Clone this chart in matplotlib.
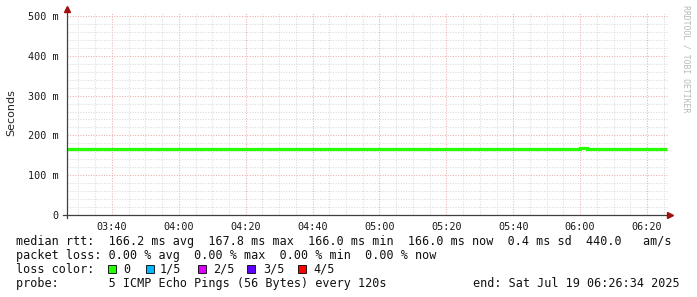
import numpy as np
import matplotlib
matplotlib.use("Agg")
import matplotlib.pyplot as plt
from matplotlib.ticker import MultipleLocator, FuncFormatter
from matplotlib.patches import Rectangle

# time axis in minutes after midnight
t_start = 3 * 60 + 26 + 34 / 60.0   # 03:26:34
t_end = 6 * 60 + 26 + 34 / 60.0     # 06:26:34
t_first = 3 * 60 + 26               # first ping round
step = 2.0                          # every 120s

# median rtt (ms), one value per ping round
median_ms = [
    166.6, 166.6, 166.6, 165.8, 165.8, 165.8, 166.6, 166.6, 165.8, 165.8,
    165.8, 166.6, 165.8, 166.6, 165.8, 166.6, 165.8, 166.6, 166.6, 166.2,
    166.2, 166.2, 166.2, 166.2, 166.2, 166.2, 166.2, 166.2, 166.2, 166.2,
    166.2, 166.2, 166.2, 166.2, 166.2, 166.2, 166.2, 166.2, 166.2, 166.2,
    166.2, 166.2, 166.2, 166.2, 166.2, 166.2, 166.2, 166.2, 166.2, 166.2,
    166.2, 166.2, 166.2, 166.2, 166.2, 166.2, 166.2, 166.2, 166.2, 166.2,
    166.2, 166.2, 166.2, 166.2, 166.2, 166.2, 166.2, 166.2, 166.2, 166.2,
    166.2, 166.2, 166.2, 166.2, 166.2, 166.2, 166.2, 167.8, 166.6, 166.6,
    165.8, 165.8, 166.6, 166.3, 166.3, 166.3, 166.3, 166.3, 166.3, 166.3,
]
edges = t_first + step * np.arange(len(median_ms) + 1)

legend_lines = [
    "median rtt:  166.2 ms avg  167.8 ms max  166.0 ms min  166.0 ms now  0.4 ms sd  440.0   am/s",
    "packet loss: 0.00 % avg  0.00 % max  0.00 % min  0.00 % now",
]
loss_labels = ["0", "1/5", "2/5", "3/5", "4/5"]
loss_colors = ["#26ff00", "#00b8ff", "#dd00ff", "#5e00ff", "#ff0000"]
probe_text = "probe:       5 ICMP Echo Pings (56 Bytes) every 120s"
end_text = "end: Sat Jul 19 06:26:34 2025"

W, H = 697, 297
fig = plt.figure(figsize=(W / 100, H / 100), dpi=100)
fig.patch.set_facecolor("white")

# plot area in pixels
px_l, px_r, px_t, px_b = 67, 669, 13, 215
ax = fig.add_axes([px_l / W, 1 - px_b / H, (px_r - px_l) / W, (px_b - px_t) / H])
ax.set_facecolor("white")

ymax = 500 + (16 - px_t) / 0.398
ax.set_xlim(t_start, t_end)
ax.set_ylim(0, ymax)

ax.xaxis.set_major_locator(MultipleLocator(20))
ax.xaxis.set_minor_locator(MultipleLocator(5))
ax.yaxis.set_major_locator(MultipleLocator(100))
ax.yaxis.set_minor_locator(MultipleLocator(20))

ax.grid(which="minor", color="#dadada", linestyle=(0, (1, 1.5)), linewidth=0.75)
ax.grid(which="major", color="#ebaeae", linestyle=(0, (1, 1.5)), linewidth=0.75)
ax.set_axisbelow(True)

ax.xaxis.set_major_formatter(FuncFormatter(lambda v, p: "%02d:%02d" % (int(v) // 60, int(v) % 60)))
ax.yaxis.set_major_formatter(FuncFormatter(lambda v, p: "0" if v == 0 else "%d m" % v))

mono = "DejaVu Sans Mono"
ax.tick_params(which="both", length=0, labelsize=7.3, colors="#1a1a1a")
ax.tick_params(axis="y", pad=6)
ax.tick_params(axis="x", pad=5)
for lab in ax.get_xticklabels() + ax.get_yticklabels():
    lab.set_fontfamily(mono)

for s in ax.spines.values():
    s.set_visible(False)

# median line
ax.stairs(median_ms, edges, baseline=None, color="#26ff00", linewidth=2.3, zorder=3)

# axes with arrows
mpp = (t_end - t_start) / (px_r - px_l)   # minutes per pixel
ax.plot([t_start - 4 * mpp, t_end + 1 * mpp], [0, 0], color="#404040", lw=0.9, clip_on=False, zorder=4)
ax.plot([t_start, t_start], [-3 / 0.398, ymax + 2 / 0.398], color="#404040", lw=0.9, clip_on=False, zorder=4)
ax.plot([t_end + 1.5 * mpp], [0], marker=">", color="#a01010", markersize=4, clip_on=False, zorder=5)
ax.plot([t_start], [ymax + 3.5 / 0.398], marker="^", color="#a01010", markersize=4, clip_on=False, zorder=5)

fig.text(11 / W, 1 - 113 / H, "Seconds", rotation=90, ha="center", va="center",
         fontsize=8, family="DejaVu Sans", color="#222222")
fig.text(686 / W, 1 - 5 / H, "RRDTOOL / TOBI OETIKER", rotation=270, ha="center", va="top",
         fontsize=5.9, family=mono, color="#b8b8b8")

# legend text
fs = 8.45
fig.text(16 / W, 1 - 245 / H, legend_lines[0], fontsize=fs, family=mono, va="baseline", color="#111111")
fig.text(16 / W, 1 - 259 / H, legend_lines[1], fontsize=fs, family=mono, va="baseline", color="#111111")
fig.text(16 / W, 1 - 273 / H, "loss color:", fontsize=fs, family=mono, va="baseline", color="#111111")

box_x = [108, 146, 198, 247, 298]
lab_x = [123, 160, 213, 263, 313]
for bx, lx, lab, col in zip(box_x, lab_x, loss_labels, loss_colors):
    fig.patches.append(Rectangle((bx / W, 1 - 273 / H), 8 / W, 8 / H, transform=fig.transFigure,
                                 facecolor=col, edgecolor="black", linewidth=0.6))
    fig.text(lx / W, 1 - 273 / H, lab, fontsize=fs, family=mono, va="baseline", color="#111111")

fig.text(16 / W, 1 - 287 / H, probe_text, fontsize=fs, family=mono, va="baseline", color="#111111")
fig.text(680 / W, 1 - 287 / H, end_text, fontsize=fs, family=mono, va="baseline", ha="right", color="#111111")

fig.savefig("out.png", dpi=100, facecolor="white")
